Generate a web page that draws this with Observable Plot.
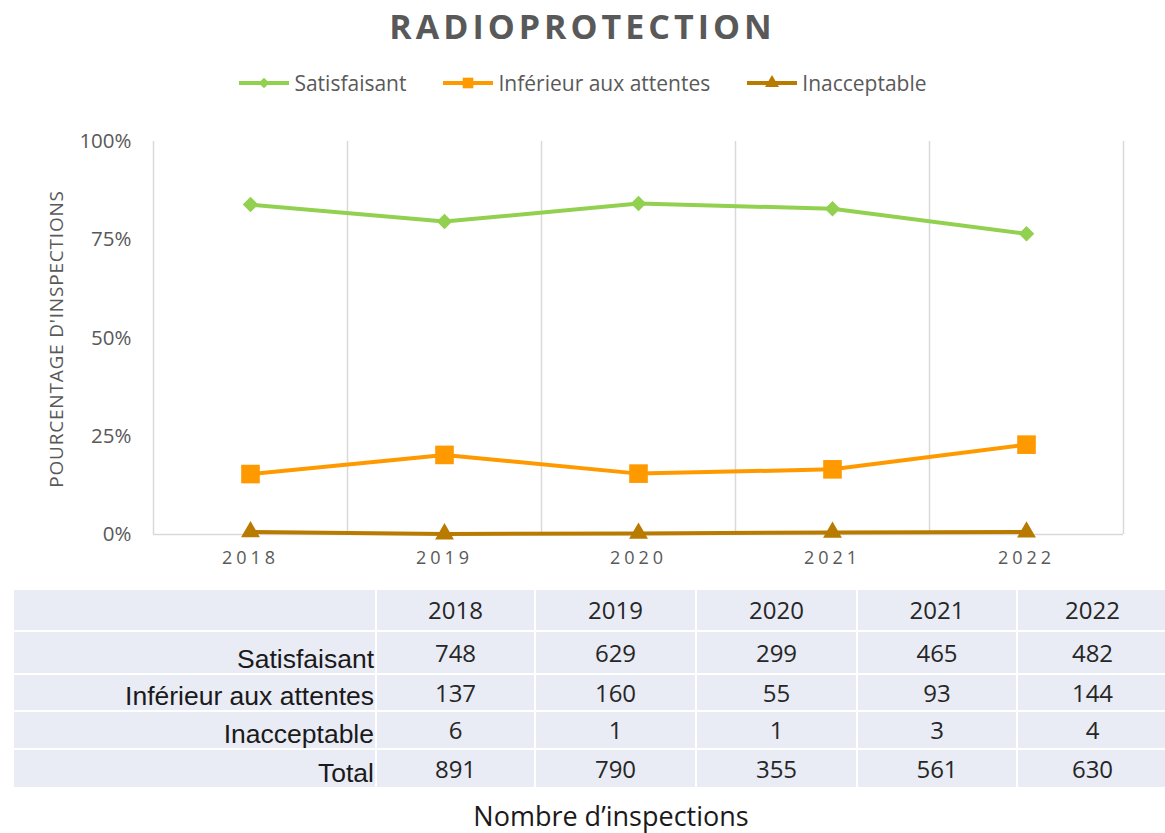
<!DOCTYPE html>
<html>
<head>
<meta charset="utf-8">
<script src="https://cdn.jsdelivr.net/npm/d3@7"></script>
<script src="https://cdn.jsdelivr.net/npm/@observablehq/plot@0.6"></script>
<style>
  html, body { margin: 0; padding: 0; background: #fff; }
  #root { position: relative; width: 1165px; height: 833px; overflow: hidden; font-family: "Open Sans", sans-serif; color: #595959; }
  #title { position: absolute; left: 0; top: 4px; width: 1165px; text-align: center; font-weight: bold; font-size: 34px; letter-spacing: 4px; line-height: 44px; color: #595959; }
  #legend { position: absolute; left: 0; top: 69px; width: 1165px; height: 28px; display: flex; justify-content: center; align-items: center; font-size: 21px; color: #595959; }
  .item { display: flex; align-items: center; margin: 0 18px; }
  .item svg { margin-right: 4px; }
  #ylabel { position: absolute; left: 56px; top: 339px; transform: translate(-50%, -50%) rotate(-90deg); white-space: nowrap; font-size: 19px; letter-spacing: 0.8px; color: #595959; }
  #chart { position: absolute; left: 0; top: 100px; }
  #chart svg [aria-label="x-axis tick label"] text { letter-spacing: 4px; }
  #tbl { position: absolute; left: 12px; top: 588px; border-collapse: collapse; table-layout: fixed; width: 1155px; }
  #tbl td { background: #E9EBF5; border: 2px solid #fff; padding: 0 2px; font-size: 24px; color: #262626; text-align: center; vertical-align: middle; line-height: 1; font-family: "Open Sans", sans-serif; }
  #tbl td.lab { text-align: right; vertical-align: bottom; padding-bottom: 1px; padding-right: 1px; font-family: "Liberation Sans", Arial, sans-serif; font-size: 26.5px; color: #1a1a1a; }
  #foot { position: absolute; left: 611px; top: 801px; transform: translateX(-50%); font-size: 27px; color: #1a1a1a; white-space: nowrap; line-height: 30px; }
</style>
</head>
<body>
<div id="root">
  <div id="title">RADIOPROTECTION</div>
  <div id="legend"></div>
  <div id="ylabel">POURCENTAGE D'INSPECTIONS</div>
  <div id="chart"></div>
  <table id="tbl"></table>
  <div id="foot">Nombre d’inspections</div>
</div>
<script>
// ---- Data ----
const years = [2018, 2019, 2020, 2021, 2022];
const seriesNames = ["Satisfaisant", "Inférieur aux attentes", "Inacceptable"];
const pctSatisfaisant = [0.8395, 0.7962, 0.8423, 0.8289, 0.7651];
const pctInferieur = [0.1538, 0.2025, 0.1549, 0.1658, 0.2286];
const pctInacceptable = [0.0067, 0.0013, 0.0028, 0.0053, 0.0063];
const countSatisfaisant = [748, 629, 299, 465, 482];
const countInferieur = [137, 160, 55, 93, 144];
const countInacceptable = [6, 1, 1, 3, 4];
const countTotal = [891, 790, 355, 561, 630];
const yTicks = [0, 0.25, 0.5, 0.75, 1];

// ---- Styles ----
const colors = ["#92D050", "#FF9900", "#B97A00"];
const symbols = ["diamond2", "square", "triangle"];
const dotR = [7, 10.5, 7];

const pcts = [pctSatisfaisant, pctInferieur, pctInacceptable];
const rows = [];
seriesNames.forEach((s, i) => years.forEach((yr, j) => rows.push({series: s, year: yr, value: pcts[i][j], idx: i})));

// band boundaries derived from the categories
const boundaries = years.map(y => y - 0.5).concat([years[years.length - 1] + 0.5]);

const chart = Plot.plot({
  width: 1165,
  height: 480,
  marginLeft: 153,
  marginRight: 42,
  marginTop: 41,
  marginBottom: 46,
  style: {fontFamily: "Open Sans, sans-serif", fontSize: "16px", color: "#595959", background: "transparent"},
  x: {type: "linear", domain: [boundaries[0], boundaries[boundaries.length - 1]]},
  y: {domain: [0, 1]},
  marks: [
    Plot.ruleX(boundaries, {stroke: "#d9d9d9", strokeWidth: 1.5}),
    Plot.ruleY([0], {stroke: "#d9d9d9", strokeWidth: 1.5}),
    Plot.axisX(years, {tickSize: 0, tickPadding: 17, tickFormat: d => String(d), fontSize: 18, label: null}),
    Plot.axisY(yTicks, {tickSize: 0, tickPadding: 22, tickFormat: d3.format(".0%"), fontSize: 20.5, label: null}),
    ...seriesNames.map((s, i) => Plot.line(rows.filter(d => d.idx === i), {x: "year", y: "value", stroke: colors[i], strokeWidth: 4})),
    ...seriesNames.map((s, i) => Plot.dot(rows.filter(d => d.idx === i), {x: "year", y: "value", fill: colors[i], symbol: () => symbols[i], r: dotR[i], stroke: "none"}))
  ]
});
document.getElementById("chart").appendChild(chart);

// ---- Legend ----
const legend = d3.select("#legend");
const legendSym = {diamond2: d3.symbolDiamond2, square: d3.symbolSquare, triangle: d3.symbolTriangle};
const legendR = [4.8, 6, 5.2];
seriesNames.forEach((s, i) => {
  const it = legend.append("div").attr("class", "item");
  const svg = it.append("svg").attr("width", 52).attr("height", 20);
  svg.append("line").attr("x1", 1).attr("x2", 51).attr("y1", 10).attr("y2", 10).attr("stroke", colors[i]).attr("stroke-width", 4);
  svg.append("path").attr("transform", "translate(26,10)").attr("fill", colors[i])
    .attr("d", d3.symbol(legendSym[symbols[i]], Math.PI * legendR[i] * legendR[i])());
  it.append("span").text(s);
});

// ---- Table ----
const tbl = d3.select("#tbl");
const colW = [363, 159, 161, 161, 160, 151];
const cg = tbl.append("colgroup");
colW.forEach(w => cg.append("col").style("width", w + "px"));
const rowH = [42, 43, 37, 38, 39];
const tableRows = [
  {label: "", vals: years},
  {label: "Satisfaisant", vals: countSatisfaisant},
  {label: "Inférieur aux attentes", vals: countInferieur},
  {label: "Inacceptable", vals: countInacceptable},
  {label: "Total", vals: countTotal}
];
tableRows.forEach((r, k) => {
  const tr = tbl.append("tr").style("height", rowH[k] + "px");
  tr.append("td").attr("class", "lab").text(r.label);
  r.vals.forEach(v => tr.append("td").text(v));
});
</script>
</body>
</html>
